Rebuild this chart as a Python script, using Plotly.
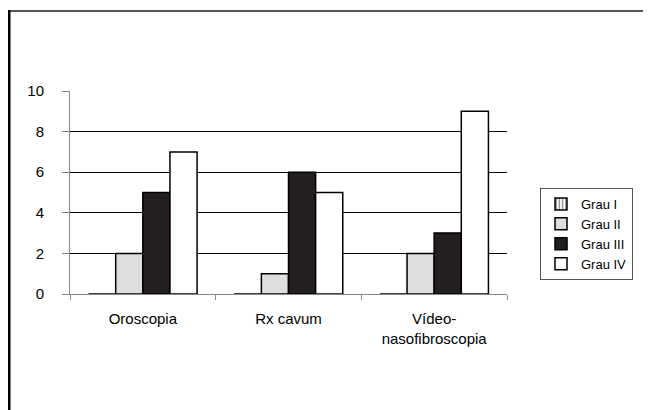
import plotly.graph_objects as go

categories = ["Oroscopia", "Rx cavum", "Vídeo-<br>nasofibroscopia"]
series_names = ["Grau I", "Grau II", "Grau III", "Grau IV"]
grau_i = [0, 0, 0]
grau_ii = [2, 1, 2]
grau_iii = [5, 6, 3]
grau_iv = [7, 5, 9]
y_ticks = [0, 2, 4, 6, 8, 10]

# page has an 8px body margin, so the figure is laid out in page coords minus 8
OFF = 8
W, H = 651 - OFF, 410 - OFF
L, T = 70 - OFF, 91 - OFF
pw, ph = 437, 203
R, B = W - L - pw, H - T - ph

fig = go.Figure()
fig.add_trace(go.Bar(x=categories, y=grau_i, name=series_names[0],
                     marker=dict(color="white", line=dict(color="black", width=1.5),
                                 pattern=dict(shape="|", fgcolor="black", bgcolor="white", size=4, solidity=0.4))))
fig.add_trace(go.Bar(x=categories, y=grau_ii, name=series_names[1],
                     marker=dict(color="#dedede", line=dict(color="black", width=1.5))))
fig.add_trace(go.Bar(x=categories, y=grau_iii, name=series_names[2],
                     marker=dict(color="#231f20", line=dict(color="black", width=1.5))))
fig.add_trace(go.Bar(x=categories, y=grau_iv, name=series_names[3],
                     marker=dict(color="white", line=dict(color="black", width=1.5))))

def px_x(p):
    return (p - OFF - L) / pw

def px_y(p):
    return (T + ph - (p - OFF)) / ph

fig.update_layout(
    width=W, height=H,
    margin=dict(l=L, r=R, t=T, b=B, pad=0),
    paper_bgcolor="white", plot_bgcolor="white",
    barmode="group", bargap=0.255, bargroupgap=0,
    font=dict(family="Liberation Sans, Arial, sans-serif", color="black", size=15),
    showlegend=True,
    legend=dict(x=px_x(540), xanchor="left", y=px_y(234), yanchor="middle",
                bordercolor="#555555", borderwidth=1, bgcolor="white",
                font=dict(size=13, family="Liberation Sans, Arial, sans-serif"),
                itemwidth=30, traceorder="normal"),
    xaxis=dict(showline=True, linecolor="#888888", linewidth=1, layer="above traces",
               ticks="outside", tickson="boundaries", ticklen=5, tickcolor="#888888",
               showgrid=False, ticklabelstandoff=11,
               tickfont=dict(size=15)),
    yaxis=dict(range=[0, 10], tickvals=y_ticks, showline=True, linecolor="#888888", linewidth=1,
               ticks="outside", ticklen=7, tickcolor="#888888",
               showgrid=True, gridcolor="black", gridwidth=1,
               zeroline=False, ticklabelstandoff=15,
               tickfont=dict(size=15)),
    shapes=[
        dict(type="line", xref="paper", yref="paper",
             x0=px_x(8), x1=px_x(651), y0=px_y(11), y1=px_y(11),
             line=dict(color="#555555", width=2)),
        dict(type="line", xref="paper", yref="paper",
             x0=px_x(9), x1=px_x(9), y0=px_y(10), y1=px_y(410),
             line=dict(color="black", width=3)),
    ],
)

fig.write_html("out.html")
